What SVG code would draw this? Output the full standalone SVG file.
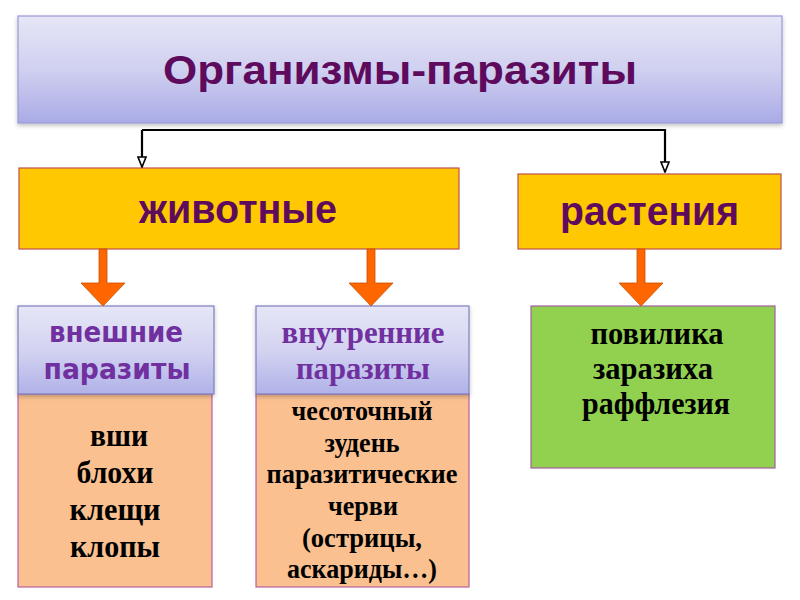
<svg xmlns="http://www.w3.org/2000/svg" width="800" height="600" viewBox="0 0 800 600">
  <defs>
    <linearGradient id="gTop" x1="0" y1="0" x2="0" y2="1">
      <stop offset="0" stop-color="#e6e6f7"/>
      <stop offset="0.5" stop-color="#d0d0f0"/>
      <stop offset="1" stop-color="#a9abe6"/>
    </linearGradient>
    <linearGradient id="gHead" x1="0" y1="0" x2="0" y2="1">
      <stop offset="0" stop-color="#e6e6f7"/>
      <stop offset="0.5" stop-color="#d3d3f1"/>
      <stop offset="1" stop-color="#b0b2e8"/>
    </linearGradient>
    <filter id="sh" x="-5%" y="-5%" width="110%" height="120%">
      <feDropShadow dx="0" dy="2" stdDeviation="2" flood-color="#000" flood-opacity="0.25"/>
    </filter>
    <marker id="openArr" viewBox="0 0 12 10" refX="11" refY="5" markerWidth="12" markerHeight="10" markerUnits="userSpaceOnUse" orient="auto">
      <path d="M1,1 L1,9 L11,5 Z" fill="#fff" stroke="#000" stroke-width="1.6"/>
    </marker>
    <path id="orangeArrow" d="M-4,0 L4,0 L4,34 L22,34 L0,57 L-22,34 L-4,34 Z"/>
  </defs>
  <style>
    .title { font-family: "Liberation Sans", Arial, sans-serif; font-weight: bold; fill: #5e0b5e; text-anchor: middle; }
    .head1 { font-family: "DejaVu Sans", Verdana, sans-serif; font-weight: bold; fill: #7030a0; text-anchor: middle; font-size: 29px; }
    .head2 { font-family: "Liberation Serif", "Times New Roman", serif; font-weight: bold; fill: #7030a0; text-anchor: middle; font-size: 31px; }
    .body { font-family: "Liberation Serif", "Times New Roman", serif; font-weight: bold; fill: #000; text-anchor: middle; }
    .orange { fill: #ff6600; stroke: #c85000; stroke-width: 0.8; }
    .conn { fill: none; stroke: #000; stroke-width: 2.2; }
  </style>

  <g id="root">
    <rect x="18" y="16" width="764" height="107" fill="url(#gTop)" stroke="#9a9ad8" stroke-width="1.2" filter="url(#sh)"/>
    <text class="title" x="400" y="84" font-size="40" textLength="474" lengthAdjust="spacingAndGlyphs">Организмы-паразиты</text>
  </g>

  <g id="animals">
    <rect x="19" y="168" width="440" height="81" fill="#ffc800" stroke="#c0504d" stroke-width="1.2"/>
    <text class="title" x="238" y="223" font-size="40" textLength="198" lengthAdjust="spacingAndGlyphs">животные</text>
  </g>

  <g id="plants">
    <rect x="518" y="174" width="263" height="75" fill="#ffc800" stroke="#c0504d" stroke-width="1.2"/>
    <text class="title" x="649.5" y="225" font-size="40" textLength="179" lengthAdjust="spacingAndGlyphs">растения</text>
  </g>

  <g id="external">
    <rect x="18" y="394" width="194" height="193" fill="#fac090" stroke="#b8609a" stroke-width="1.2"/>
    <rect x="18" y="306" width="196" height="88" fill="url(#gHead)" stroke="#7f7fc0" stroke-width="1.2" filter="url(#sh)"/>
    <text class="head1" x="116" y="342" textLength="134" lengthAdjust="spacingAndGlyphs">внешние</text>
    <text class="head1" x="117" y="379" textLength="147" lengthAdjust="spacingAndGlyphs">паразиты</text>
    <text class="body" font-size="31" x="119" y="446" textLength="58" lengthAdjust="spacingAndGlyphs">вши</text>
    <text class="body" font-size="31" x="115" y="483" textLength="77" lengthAdjust="spacingAndGlyphs">блохи</text>
    <text class="body" font-size="31" x="115" y="520" textLength="91" lengthAdjust="spacingAndGlyphs">клещи</text>
    <text class="body" font-size="31" x="115" y="557" textLength="90" lengthAdjust="spacingAndGlyphs">клопы</text>
  </g>

  <g id="internal">
    <rect x="256" y="394" width="213" height="193" fill="#fac090" stroke="#b8609a" stroke-width="1.2"/>
    <rect x="256" y="306" width="213" height="88" fill="url(#gHead)" stroke="#7f7fc0" stroke-width="1.2" filter="url(#sh)"/>
    <text class="head2" x="363" y="343" textLength="163" lengthAdjust="spacingAndGlyphs">внутренние</text>
    <text class="head2" x="363" y="379" textLength="134" lengthAdjust="spacingAndGlyphs">паразиты</text>
    <text class="body" font-size="28" x="362" y="420" textLength="141" lengthAdjust="spacingAndGlyphs">чесоточный</text>
    <text class="body" font-size="28" x="362" y="452" textLength="75" lengthAdjust="spacingAndGlyphs">зудень</text>
    <text class="body" font-size="28" x="362" y="483" textLength="191" lengthAdjust="spacingAndGlyphs">паразитические</text>
    <text class="body" font-size="28" x="363" y="515" textLength="70" lengthAdjust="spacingAndGlyphs">черви</text>
    <text class="body" font-size="28" x="362" y="547" textLength="120" lengthAdjust="spacingAndGlyphs">(острицы,</text>
    <text class="body" font-size="28" x="362" y="578" textLength="150" lengthAdjust="spacingAndGlyphs">аскариды…)</text>
  </g>

  <g id="plantList">
    <rect x="531" y="306" width="244" height="162" fill="#92d050" stroke="#a0609f" stroke-width="1.2"/>
    <text class="body" font-size="31" x="657" y="344" textLength="133" lengthAdjust="spacingAndGlyphs">повилика</text>
    <text class="body" font-size="31" x="653" y="379" textLength="120" lengthAdjust="spacingAndGlyphs">заразиха</text>
    <text class="body" font-size="31" x="656" y="414" textLength="148" lengthAdjust="spacingAndGlyphs">раффлезия</text>
  </g>

  <g id="connectors">
    <path class="conn" d="M142,130 L665,130 L665,172" marker-end="url(#openArr)"/>
    <path class="conn" d="M142,130 L142,167" marker-end="url(#openArr)"/>
    <use href="#orangeArrow" class="orange" transform="translate(103,249)"/>
    <use href="#orangeArrow" class="orange" transform="translate(371,249)"/>
    <use href="#orangeArrow" class="orange" transform="translate(641,249)"/>
  </g>
</svg>
